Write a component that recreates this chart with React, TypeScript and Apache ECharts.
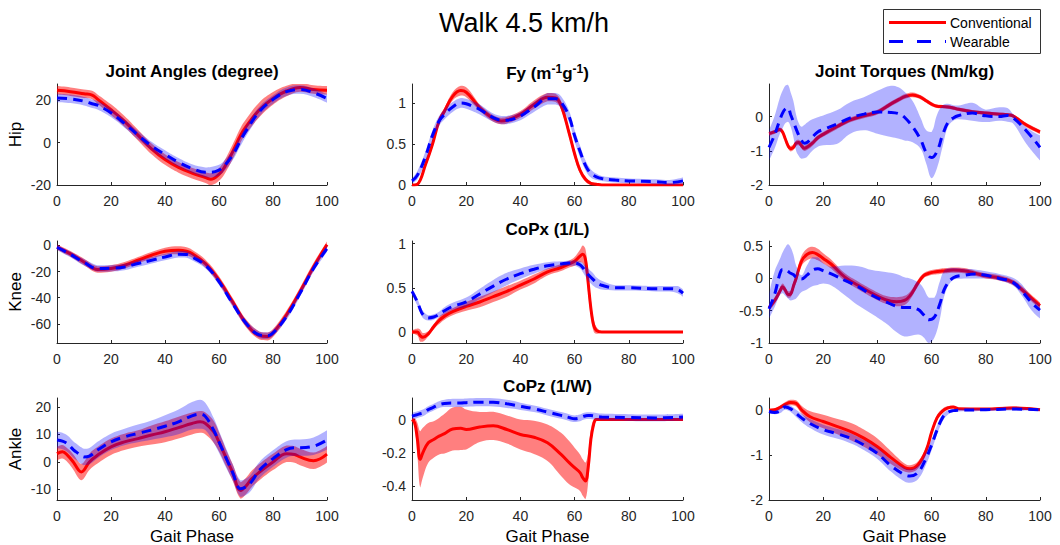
import React, { useEffect, useRef } from 'react';
import * as echarts from 'echarts';

// ---------- data ----------
// Panel 1: Hip joint angle (degree)
const hipAngPhase = [0, 5, 10, 13, 15, 20, 25, 30, 35, 40, 45, 50, 55, 57, 60, 62, 65, 68, 70, 75, 80, 85, 90, 95, 100];
const hipAngConv = [24.6, 24, 23, 22.4, 20.5, 15.5, 10, 3.5, -3, -8, -11.7, -14.4, -16.5, -17.3, -15, -11.7, -4.5, 3.5, 7.5, 15.5, 20.8, 24.3, 26, 25, 24.6];
const hipAngConvSd = [2, 2, 2, 2, 2.2, 2.5, 2.5, 2.5, 2.5, 2.5, 2.5, 2.5, 2.5, 2.8, 3, 3.2, 3.5, 3.5, 3.5, 3.5, 3, 2.5, 2, 2, 2];
const hipAngWear = [21, 20.6, 19.5, 18.3, 17.6, 14, 9, 3.5, -1.6, -5.6, -9.3, -12.2, -14, -14, -13, -10.9, -6, 1, 5.5, 14.7, 20.3, 24, 25, 23.5, 20.8];
const hipAngWearSd = [2, 2, 2, 2, 2, 2, 2, 2, 2, 2, 2, 2, 2.3, 2.5, 2.5, 2.5, 2.5, 2.5, 2.5, 2.3, 2, 2, 2, 2, 2];

// Panel 2: Fy
const fyPhase = [0, 2, 5, 7.5, 10, 12, 15, 18, 20, 23, 25, 30, 33, 35, 40, 45, 50, 53, 55, 58, 60, 62, 64, 66, 68, 70, 75, 80, 90, 95, 100];
const fyConv = [0, 0.01, 0.25, 0.49, 0.78, 0.9, 1.08, 1.15, 1.13, 1.02, 0.94, 0.81, 0.78, 0.79, 0.86, 0.98, 1.07, 1.06, 0.97, 0.63, 0.38, 0.18, 0.07, 0.02, 0.01, 0, 0, 0, 0, 0, 0];
const fyConvSd = [0.01, 0.02, 0.03, 0.04, 0.04, 0.04, 0.05, 0.06, 0.06, 0.05, 0.04, 0.04, 0.04, 0.04, 0.04, 0.05, 0.05, 0.05, 0.05, 0.05, 0.05, 0.04, 0.03, 0.02, 0.01, 0.005, 0.005, 0.005, 0.005, 0.005, 0.005];
const fyWear = [0.05, 0.12, 0.35, 0.6, 0.78, 0.86, 0.95, 1.0, 0.99, 0.95, 0.92, 0.82, 0.79, 0.79, 0.84, 0.95, 1.05, 1.05, 1.01, 0.83, 0.6, 0.41, 0.24, 0.14, 0.1, 0.08, 0.06, 0.05, 0.04, 0.03, 0.05];
const fyWearSd = [0.03, 0.05, 0.06, 0.06, 0.06, 0.06, 0.06, 0.06, 0.06, 0.06, 0.06, 0.05, 0.05, 0.05, 0.05, 0.06, 0.07, 0.07, 0.07, 0.07, 0.07, 0.07, 0.06, 0.05, 0.04, 0.03, 0.03, 0.03, 0.03, 0.03, 0.04];

// Panel 3: Hip joint torque (Nm/kg)
const htPhase = [0, 2, 4, 5, 6, 7, 8, 9, 10, 11, 12, 13, 14, 16, 18, 20, 25, 30, 35, 40, 45, 48, 50, 53, 56, 58, 60, 62, 64, 66, 68, 70, 75, 80, 85, 88, 90, 95, 100];
const htConv = [-0.5, -0.45, -0.38, -0.45, -0.65, -0.85, -0.94, -0.9, -0.78, -0.76, -0.85, -0.93, -0.9, -0.78, -0.62, -0.52, -0.3, -0.1, 0.02, 0.13, 0.37, 0.5, 0.58, 0.63, 0.56, 0.46, 0.36, 0.3, 0.29, 0.28, 0.25, 0.21, 0.14, 0.1, 0.07, 0.05, 0.02, -0.25, -0.45];
const htConvSd = [0.06, 0.06, 0.06, 0.07, 0.08, 0.08, 0.08, 0.08, 0.08, 0.08, 0.08, 0.08, 0.08, 0.08, 0.07, 0.07, 0.07, 0.07, 0.07, 0.07, 0.07, 0.07, 0.07, 0.07, 0.06, 0.06, 0.06, 0.05, 0.05, 0.05, 0.05, 0.05, 0.05, 0.05, 0.05, 0.05, 0.05, 0.06, 0.06];
const htWear = [-0.9, -0.55, -0.1, 0.1, 0.22, 0.25, 0.05, -0.15, -0.36, -0.55, -0.7, -0.78, -0.76, -0.6, -0.45, -0.38, -0.22, -0.04, 0.07, 0.13, 0.12, 0.08, -0.02, -0.3, -0.68, -1.05, -1.2, -1.02, -0.55, -0.18, -0.04, 0.03, 0.1, 0.02, 0.0, 0.03, -0.03, -0.42, -0.9];
const htWearLo = [-1.28, -0.95, -0.5, -0.35, -0.2, -0.15, -0.3, -0.6, -1.0, -1.15, -1.23, -1.22, -1.18, -1.0, -0.88, -0.84, -0.8, -0.5, -0.4, -0.5, -0.6, -0.65, -0.7, -0.75, -0.95, -1.37, -1.8, -1.5, -0.9, -0.3, -0.12, -0.08, -0.12, -0.16, -0.12, -0.15, -0.2, -0.8, -1.28];
const htWearHi = [-0.4, 0.0, 0.55, 0.75, 0.9, 0.93, 0.7, 0.45, 0.05, -0.2, -0.3, -0.25, -0.18, -0.08, -0.02, 0.03, 0.18, 0.42, 0.56, 0.75, 0.9, 0.85, 0.72, 0.45, -0.05, -0.4, -0.45, 0.05, 0.32, 0.37, 0.33, 0.32, 0.4, 0.2, 0.27, 0.25, 0.08, -0.32, -0.55];

// Panel 4: Knee joint angle (degree)
const kaPhase = [0, 5, 10, 15, 20, 25, 30, 35, 40, 45, 48, 50, 55, 60, 65, 70, 75, 78, 80, 85, 90, 95, 100];
const kaConv = [-1.3, -6.5, -12.7, -18.5, -17.7, -15.2, -11.4, -7.6, -4.6, -3.8, -4.5, -6.3, -14, -26.6, -43, -59.5, -69, -69.6, -67, -53, -35.4, -16.5, 0.5];
const kaConvSd = [2, 2.2, 2.5, 2.5, 2.5, 2.5, 2.5, 2.5, 2.8, 3, 3, 3, 3, 3, 3, 3, 3, 3, 3, 3, 3, 3, 2.5];
const kaWear = [-1.5, -7, -13, -17.7, -17.5, -16.5, -13.9, -11.4, -8.9, -6.8, -7, -8.9, -15.2, -27.8, -44.3, -59.5, -68.4, -69, -67, -54.4, -36.7, -17.7, -2.5];
const kaWearSd = [2, 2.2, 2.5, 2.5, 2.5, 2.5, 2.5, 2.5, 2.5, 2.5, 2.5, 2.5, 2.5, 2.5, 2.5, 2.5, 2.5, 2.5, 2.5, 2.5, 2.5, 2.5, 2.5];

// Panel 5: CoPx (1/L)
const cxPhase = [0, 2, 3, 4, 6, 8, 10, 12, 15, 20, 25, 30, 35, 40, 45, 50, 55, 58, 60, 62, 63, 64, 65, 66, 67, 68, 70, 75, 80, 90, 95, 98, 100];
const cxConv = [0, 0, -0.04, -0.06, -0.02, 0.06, 0.13, 0.18, 0.23, 0.29, 0.34, 0.4, 0.46, 0.53, 0.6, 0.68, 0.73, 0.77, 0.8, 0.86, 0.88, 0.82, 0.56, 0.27, 0.08, 0.02, 0, 0, 0, 0, 0, 0, 0];
const cxConvSd = [0.02, 0.04, 0.07, 0.05, 0.03, 0.03, 0.04, 0.04, 0.04, 0.05, 0.06, 0.06, 0.06, 0.05, 0.05, 0.04, 0.04, 0.04, 0.05, 0.07, 0.1, 0.12, 0.12, 0.1, 0.07, 0.04, 0.01, 0.01, 0.01, 0.01, 0.01, 0.01, 0.01];
const cxWear = [0.46, 0.34, 0.26, 0.2, 0.16, 0.17, 0.2, 0.24, 0.29, 0.34, 0.43, 0.52, 0.6, 0.66, 0.71, 0.75, 0.77, 0.78, 0.78, 0.76, 0.73, 0.69, 0.65, 0.62, 0.59, 0.56, 0.53, 0.5, 0.5, 0.49, 0.49, 0.48, 0.44];
const cxWearSd = [0.04, 0.04, 0.04, 0.04, 0.03, 0.03, 0.03, 0.04, 0.04, 0.05, 0.06, 0.07, 0.07, 0.06, 0.05, 0.04, 0.03, 0.03, 0.03, 0.04, 0.05, 0.06, 0.07, 0.07, 0.07, 0.06, 0.05, 0.03, 0.03, 0.03, 0.03, 0.04, 0.04];

// Panel 6: Knee joint torque (Nm/kg)
const ktPhase = [0, 2, 4, 5, 6, 7, 8, 9, 10, 12, 14, 16, 18, 20, 23, 28, 33, 38, 43, 47, 50, 52, 55, 57, 59, 61, 63, 65, 68, 72, 76, 80, 85, 90, 93, 97, 100];
const ktConv = [-0.45, -0.35, -0.2, -0.13, -0.18, -0.25, -0.24, -0.12, 0.0, 0.27, 0.37, 0.4, 0.37, 0.31, 0.22, 0.02, -0.11, -0.23, -0.33, -0.36, -0.34, -0.27, -0.07, 0.04, 0.08, 0.1, 0.11, 0.12, 0.13, 0.12, 0.08, 0.04, 0.01, -0.06, -0.16, -0.31, -0.42];
const ktConvSd = [0.05, 0.05, 0.05, 0.05, 0.05, 0.05, 0.05, 0.06, 0.07, 0.08, 0.09, 0.09, 0.09, 0.08, 0.07, 0.06, 0.06, 0.06, 0.06, 0.07, 0.07, 0.06, 0.05, 0.04, 0.04, 0.04, 0.04, 0.04, 0.04, 0.04, 0.04, 0.04, 0.04, 0.04, 0.05, 0.05, 0.05];
const ktWear = [-0.47, -0.26, 0.07, 0.14, 0.14, 0.11, 0.08, 0.06, 0.02, -0.01, 0.05, 0.13, 0.15, 0.12, 0.07, -0.03, -0.13, -0.26, -0.36, -0.43, -0.45, -0.45, -0.48, -0.56, -0.64, -0.6, -0.4, -0.14, 0.01, 0.05, 0.07, 0.05, 0.0, -0.06, -0.18, -0.38, -0.49];
const ktWearLo = [-0.62, -0.45, -0.26, -0.23, -0.27, -0.31, -0.34, -0.33, -0.31, -0.21, -0.17, -0.12, -0.1, -0.08, -0.11, -0.26, -0.42, -0.55, -0.69, -0.83, -0.9, -0.89, -0.87, -0.91, -1.0, -0.92, -0.64, -0.23, -0.02, 0.0, 0.0, 0.0, -0.03, -0.11, -0.25, -0.5, -0.62];
const ktWearHi = [-0.25, 0.1, 0.3, 0.4, 0.48, 0.53, 0.48, 0.37, 0.2, 0.05, 0.2, 0.33, 0.33, 0.24, 0.18, 0.2, 0.19, 0.13, 0.1, 0.07, 0.02, 0.0, -0.06, -0.15, -0.3, -0.3, -0.05, 0.14, 0.16, 0.15, 0.14, 0.11, 0.07, 0.01, -0.08, -0.3, -0.41];

// Panel 7: Ankle joint angle (degree)
const aaPhase = [0, 2, 4, 6, 8, 9, 10, 12, 15, 20, 25, 30, 35, 40, 45, 50, 53, 55, 58, 60, 63, 65, 68, 70, 72, 75, 80, 85, 88, 90, 95, 100];
const aaConv = [3, 3.7, 2.3, 0, -3, -3.7, -3, 0, 2.4, 5.5, 7.3, 8.5, 9.8, 11, 12.5, 14, 14.6, 14, 11, 7.3, 0.6, -3.7, -10.4, -8.8, -6.3, -3.7, 0, 3, 2.7, 1.8, 0.4, 2.8];
const aaConvSd = [2.5, 2.5, 2.5, 2.8, 3, 3, 3, 3, 3, 3, 3, 3, 3.5, 3.8, 4, 4, 4, 4, 4, 3.5, 3, 3, 3, 3, 3, 3, 3, 3, 3, 3, 3, 3];
const aaWear = [8, 7.6, 6.5, 4.5, 3, 2.3, 1.8, 2.1, 4.3, 7.3, 9.1, 10.4, 11.6, 13, 14.6, 16.8, 17.4, 16.5, 11.6, 7.3, 0.6, -3.7, -9.8, -9.1, -7.3, -3, 1.2, 4.5, 5.2, 5.2, 5.7, 8];
const aaWearSd = [3, 3, 3, 3, 3, 3, 3, 3, 3, 3, 3, 3.2, 3.5, 4, 4.5, 5, 5.3, 5, 4.5, 4, 3.5, 3, 3, 3, 3, 3, 3, 3, 3, 3, 3.2, 3.5];

// Panel 8: CoPz (1/W)
const czPhase = [0, 1, 2, 3, 4, 6, 8, 10, 12, 15, 18, 20, 25, 30, 35, 40, 45, 50, 55, 58, 60, 62, 63, 64, 65, 66, 67, 68, 70, 80, 90, 100];
const czConv = [0, -0.02, -0.12, -0.24, -0.2, -0.14, -0.12, -0.1, -0.085, -0.057, -0.053, -0.06, -0.045, -0.038, -0.06, -0.09, -0.107, -0.14, -0.21, -0.26, -0.29, -0.32, -0.35, -0.37, -0.29, -0.12, -0.03, 0, 0, 0, 0, 0];
const czConvSd = [0.01, 0.03, 0.1, 0.17, 0.15, 0.12, 0.11, 0.11, 0.12, 0.13, 0.13, 0.12, 0.09, 0.085, 0.085, 0.09, 0.1, 0.11, 0.13, 0.13, 0.12, 0.11, 0.11, 0.11, 0.09, 0.06, 0.03, 0.01, 0.004, 0.004, 0.004, 0.004];
const czWear = [0.02, 0.025, 0.03, 0.035, 0.04, 0.06, 0.075, 0.09, 0.097, 0.1, 0.1, 0.102, 0.105, 0.104, 0.095, 0.08, 0.065, 0.045, 0.025, 0.012, 0.005, 0.01, 0.018, 0.022, 0.024, 0.024, 0.022, 0.02, 0.016, 0.012, 0.01, 0.015];
const czWearSd = [0.02, 0.02, 0.02, 0.02, 0.02, 0.02, 0.02, 0.02, 0.022, 0.025, 0.025, 0.025, 0.025, 0.025, 0.025, 0.022, 0.02, 0.02, 0.02, 0.02, 0.02, 0.02, 0.02, 0.02, 0.02, 0.02, 0.02, 0.02, 0.02, 0.02, 0.02, 0.02];

// Panel 9: Ankle joint torque (Nm/kg)
const atPhase = [0, 2, 4, 6, 8, 10, 12, 15, 20, 25, 30, 35, 40, 45, 50, 52, 55, 58, 60, 62, 64, 66, 68, 70, 80, 90, 100];
const atConv = [-0.01, 0.0, 0.05, 0.12, 0.16, 0.14, 0.0, -0.15, -0.26, -0.37, -0.48, -0.63, -0.82, -1.06, -1.28, -1.31, -1.22, -0.9, -0.5, -0.18, -0.03, 0.04, 0.06, 0.02, 0.015, 0.04, 0.0];
const atConvSd = [0.03, 0.03, 0.04, 0.05, 0.06, 0.07, 0.09, 0.12, 0.15, 0.17, 0.19, 0.19, 0.18, 0.14, 0.09, 0.08, 0.08, 0.08, 0.07, 0.06, 0.05, 0.04, 0.03, 0.02, 0.02, 0.03, 0.03];
const atWear = [-0.04, -0.06, -0.03, 0.06, 0.02, -0.08, -0.18, -0.3, -0.44, -0.53, -0.63, -0.78, -0.97, -1.24, -1.44, -1.47, -1.39, -1.07, -0.78, -0.45, -0.18, -0.06, -0.02, -0.01, 0.0, 0.015, 0.0];
const atWearSd = [0.04, 0.04, 0.05, 0.06, 0.07, 0.08, 0.09, 0.1, 0.11, 0.11, 0.11, 0.11, 0.12, 0.13, 0.15, 0.15, 0.15, 0.14, 0.12, 0.1, 0.08, 0.05, 0.03, 0.03, 0.03, 0.03, 0.03];

// axes
const xTicks = [0, 20, 40, 60, 80, 100];
const yRanges = [
  [-20, 27.6], [0, 1.23], [-2, 0.95],
  [-74.6, 3.3], [-0.124, 1.03], [-1, 0.58],
  [-13.9, 23.3], [-0.485, 0.13], [-2, 0.26],
];
const yTicks = [
  [-20, 0, 20], [0, 0.5, 1], [-2, -1, 0],
  [-60, -40, -20, 0], [0, 0.5, 1], [-1, -0.5, 0, 0.5],
  [-10, 0, 10, 20], [-0.4, -0.2, 0], [-2, -1, 0],
];
const rowNames = ['Hip', 'Knee', 'Ankle'];
const legendNames = ['Conventional', 'Wearable'];
const mainTitle = 'Walk 4.5 km/h';

// ---------- helpers ----------
const minus = (a: number[], b: number[]) => a.map((v, k) => v - b[k]);
const plus = (a: number[], b: number[]) => a.map((v, k) => v + b[k]);

const panels = [
  { phase: hipAngPhase, conv: hipAngConv, cLo: minus(hipAngConv, hipAngConvSd), cHi: plus(hipAngConv, hipAngConvSd), wear: hipAngWear, wLo: minus(hipAngWear, hipAngWearSd), wHi: plus(hipAngWear, hipAngWearSd) },
  { phase: fyPhase, conv: fyConv, cLo: minus(fyConv, fyConvSd), cHi: plus(fyConv, fyConvSd), wear: fyWear, wLo: minus(fyWear, fyWearSd), wHi: plus(fyWear, fyWearSd) },
  { phase: htPhase, conv: htConv, cLo: minus(htConv, htConvSd), cHi: plus(htConv, htConvSd), wear: htWear, wLo: htWearLo, wHi: htWearHi },
  { phase: kaPhase, conv: kaConv, cLo: minus(kaConv, kaConvSd), cHi: plus(kaConv, kaConvSd), wear: kaWear, wLo: minus(kaWear, kaWearSd), wHi: plus(kaWear, kaWearSd) },
  { phase: cxPhase, conv: cxConv, cLo: minus(cxConv, cxConvSd), cHi: plus(cxConv, cxConvSd), wear: cxWear, wLo: minus(cxWear, cxWearSd), wHi: plus(cxWear, cxWearSd) },
  { phase: ktPhase, conv: ktConv, cLo: minus(ktConv, ktConvSd), cHi: plus(ktConv, ktConvSd), wear: ktWear, wLo: ktWearLo, wHi: ktWearHi },
  { phase: aaPhase, conv: aaConv, cLo: minus(aaConv, aaConvSd), cHi: plus(aaConv, aaConvSd), wear: aaWear, wLo: minus(aaWear, aaWearSd), wHi: plus(aaWear, aaWearSd) },
  { phase: czPhase, conv: czConv, cLo: minus(czConv, czConvSd), cHi: plus(czConv, czConvSd), wear: czWear, wLo: minus(czWear, czWearSd), wHi: plus(czWear, czWearSd) },
  { phase: atPhase, conv: atConv, cLo: minus(atConv, atConvSd), cHi: plus(atConv, atConvSd), wear: atWear, wLo: minus(atWear, atWearSd), wHi: plus(atWear, atWearSd) },
];

const FONT = "'Liberation Sans', Arial, Helvetica, sans-serif";
const AX = '#262626';
const SMOOTH = 0.4;
const colLeft = [57, 412, 769];
const colWidth = [270, 271, 271];
const rowTop = [84, 241, 398];
const rowHeight = [101, 102, 102];
const colCenter = colLeft.map((l, i) => l + colWidth[i] / 2);

const clampTo = (v: number, a: number, b: number) => Math.min(Math.max(v, Math.min(a, b)), Math.max(a, b));

// Bezier segments through pixel points (same scheme as the line series' smoothing)
function smoothSegs(pts: number[][], smooth: number, start: boolean): string {
  const n = pts.length;
  const outCp: number[][] = [];
  const inCp: number[][] = [];
  for (let i = 0; i < n; i++) {
    const [x, y] = pts[i];
    if (i === 0 || i === n - 1) { outCp[i] = [x, y]; inCp[i] = [x, y]; continue; }
    const [px, py] = pts[i - 1];
    const [nx, ny] = pts[i + 1];
    const vx = nx - px, vy = ny - py;
    const l0 = Math.hypot(x - px, y - py), l1 = Math.hypot(nx - x, ny - y);
    const r = l0 + l1 > 0 ? l1 / (l0 + l1) : 0.5;
    outCp[i] = [clampTo(x + vx * smooth * r, x, nx), clampTo(y + vy * smooth * r, y, ny)];
    inCp[i] = [clampTo(x - vx * smooth * (1 - r), px, x), clampTo(y - vy * smooth * (1 - r), py, y)];
  }
  let d = (start ? 'M' : 'L') + pts[0][0] + ' ' + pts[0][1];
  for (let i = 0; i < n - 1; i++) {
    d += ' C' + outCp[i][0] + ' ' + outCp[i][1] + ' ' + inCp[i + 1][0] + ' ' + inCp[i + 1][1] + ' ' + pts[i + 1][0] + ' ' + pts[i + 1][1];
  }
  return d;
}

function bandSeries(i: number, phase: number[], lo: number[], hi: number[], fill: string, z: number) {
  return {
    type: 'custom', xAxisIndex: i, yAxisIndex: i, clip: true, silent: true, z,
    data: phase.map((x, k) => [x, lo[k], hi[k]]),
    encode: { x: 0, y: [1, 2] },
    renderItem: (params: any, api: any) => {
      if (params.dataIndex !== 0) return null;
      const up = phase.map((x, k) => api.coord([x, hi[k]]));
      const dn = phase.map((x, k) => api.coord([x, lo[k]])).reverse();
      const d = smoothSegs(up, SMOOTH, true) + ' ' + smoothSegs(dn, SMOOTH, false) + ' Z';
      return { type: 'path', shape: { pathData: d }, style: { fill, stroke: 'none' } };
    },
  };
}

function buildOption() {
  const grid: any[] = [];
  const xAxis: any[] = [];
  const yAxis: any[] = [];
  const series: any[] = [];
  panels.forEach((p, i) => {
    const r = Math.floor(i / 3);
    const c = i % 3;
    grid.push({ left: colLeft[c], top: rowTop[r], width: colWidth[c], height: rowHeight[r], containLabel: false, outerBoundsMode: 'none' });
    xAxis.push({
      type: 'value', gridIndex: i, min: 0, max: 100, interval: 20,
      axisLine: { show: true, onZero: false, lineStyle: { color: AX, width: 1 } },
      axisTick: { show: true, inside: true, length: 3, lineStyle: { color: AX }, customValues: xTicks },
      axisLabel: { color: AX, fontSize: 14, fontFamily: FONT, margin: 9, customValues: xTicks, showMinLabel: true, showMaxLabel: true },
      splitLine: { show: false },
    });
    yAxis.push({
      type: 'value', gridIndex: i, min: yRanges[i][0], max: yRanges[i][1],
      axisLine: { show: true, onZero: false, lineStyle: { color: AX, width: 1 } },
      axisTick: { show: true, inside: true, length: 3, lineStyle: { color: AX }, customValues: yTicks[i] },
      axisLabel: { color: AX, fontSize: 14, fontFamily: FONT, margin: 6, customValues: yTicks[i], showMinLabel: true, showMaxLabel: true },
      splitLine: { show: false },
    });
    const xy = (vals: number[]) => p.phase.map((x, k) => [x, vals[k]]);
    const base = { type: 'line', xAxisIndex: i, yAxisIndex: i, symbol: 'none', showSymbol: false, smooth: SMOOTH, silent: true, animation: false };
    series.push(bandSeries(i, p.phase, p.cLo, p.cHi, 'rgba(255,0,0,0.5)', 3));
    series.push({ ...base, name: legendNames[0], z: 4, data: xy(p.conv), lineStyle: { color: '#ff0000', width: 3 } });
    series.push(bandSeries(i, p.phase, p.wLo, p.wHi, 'rgba(0,0,255,0.3)', 5));
    series.push({ ...base, name: legendNames[1], z: 6, data: xy(p.wear), lineStyle: { color: '#0000ff', width: 3, type: [10, 6] } });
  });

  const txt = (x: number, y: number, text: string, size: number, bold: boolean, extra: any = {}) => ({
    type: 'text', x, y, silent: true, ...extra,
    style: { text, fontSize: size, fontWeight: bold ? 'bold' : 'normal', fontFamily: FONT, fill: '#000', align: 'center', verticalAlign: 'middle' },
  });

  const elements: any[] = [
    txt(524, 23, mainTitle, 27, false),
    txt(colCenter[0], 71.5, 'Joint Angles (degree)', 17, true),
    {
      type: 'text', x: colCenter[1], y: 73, silent: true,
      style: {
        text: '{b|Fy (m}{s|-1}{b|g}{s|-1}{b|)}', align: 'center', verticalAlign: 'middle', fill: '#000',
        rich: {
          b: { fontSize: 17, fontWeight: 'bold', fontFamily: FONT, fill: '#000', lineHeight: 20 },
          s: { fontSize: 12, fontWeight: 'bold', fontFamily: FONT, fill: '#000', lineHeight: 14, verticalAlign: 'top' },
        },
      },
    },
    txt(colCenter[2], 71.5, 'Joint Torques (Nm/kg)', 17, true),
    txt(colCenter[1], 229, 'CoPx (1/L)', 17, true),
    txt(colCenter[1], 386.5, 'CoPz (1/W)', 17, true),
  ];
  rowNames.forEach((n, r) => {
    elements.push(txt(15, rowTop[r] + rowHeight[r] / 2, n, 17, false, { rotation: Math.PI / 2 }));
  });
  colCenter.forEach((cx) => elements.push(txt(cx, 536, 'Gait Phase', 17, false)));

  // legend box
  elements.push({ type: 'rect', shape: { x: 883.5, y: 9.5, width: 157, height: 44 }, style: { fill: '#fff', stroke: '#333', lineWidth: 1 }, silent: true });
  elements.push({ type: 'line', shape: { x1: 889, y1: 22.5, x2: 946, y2: 22.5 }, style: { stroke: '#ff0000', lineWidth: 3 }, silent: true });
  elements.push({ type: 'line', shape: { x1: 889, y1: 41.5, x2: 946, y2: 41.5 }, style: { stroke: '#0000ff', lineWidth: 3, lineDash: [14, 14] }, silent: true });
  elements.push({ type: 'text', x: 950, y: 22.5, silent: true, style: { text: legendNames[0], fontSize: 14, fontFamily: FONT, fill: '#000', align: 'left', verticalAlign: 'middle' } });
  elements.push({ type: 'text', x: 950, y: 41.5, silent: true, style: { text: legendNames[1], fontSize: 14, fontFamily: FONT, fill: '#000', align: 'left', verticalAlign: 'middle' } });

  return {
    animation: false,
    backgroundColor: '#ffffff',
    textStyle: { fontFamily: FONT },
    grid, xAxis, yAxis, series,
    graphic: { elements },
  };
}

export default function App() {
  const ref = useRef<HTMLDivElement>(null);
  useEffect(() => {
    if (!ref.current) return;
    const chart = echarts.init(ref.current, undefined, { renderer: 'svg' });
    chart.setOption(buildOption() as any);
    return () => chart.dispose();
  }, []);
  return <div ref={ref} style={{ position: 'absolute', left: 0, top: 0, width: 1060, height: 545, background: '#fff' }} />;
}
